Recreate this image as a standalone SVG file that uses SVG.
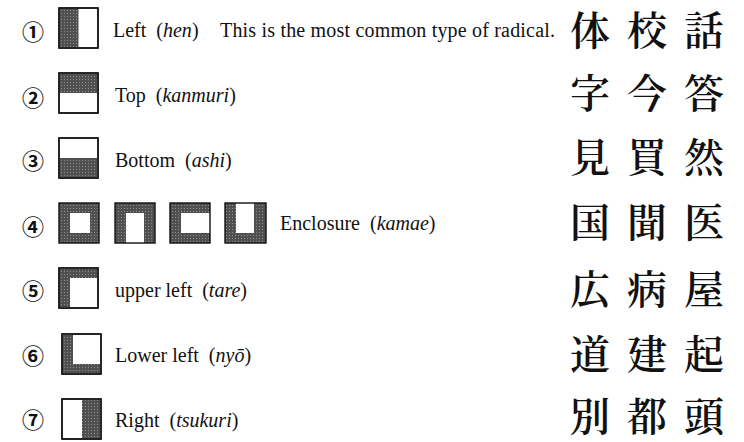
<svg xmlns="http://www.w3.org/2000/svg" width="744" height="442" viewBox="0 0 744 442">
<defs>
<pattern id="dots" width="3" height="3" patternUnits="userSpaceOnUse">
<rect width="3" height="3" fill="#505050"/>
<rect x="1" y="1" width="1" height="1" fill="#8e8e8e"/>
</pattern>
<style>
.num{font-family:"Noto Sans CJK JP","DejaVu Sans",sans-serif;font-size:22px;font-weight:700;text-anchor:middle;fill:#111}
.lbl{font-family:"Liberation Serif","Times New Roman",serif;font-size:20px;fill:#111}
.it{font-style:italic}
.kj{font-family:"Noto Serif CJK JP","Noto Sans CJK JP",serif;font-size:40px;text-anchor:middle;fill:#111;font-weight:600}
.box{fill:#fff;stroke:#111;stroke-width:1.4}
.frame{fill:none;stroke:#111;stroke-width:1.4}
.sh{fill:url(#dots)}
.wh{fill:#fff}
</style>
</defs>
<rect width="744" height="442" fill="#fff"/>

<g id="row1">
<text class="num" x="33" y="40">①</text>
<rect class="box" x="59" y="8" width="39" height="40"/>
<rect class="sh" x="59" y="8" width="19.5" height="40"/>
<rect class="frame" x="59" y="8" width="39" height="40"/>
<text class="lbl" x="113" y="37" xml:space="preserve">Left  (<tspan class="it">hen</tspan>)</text>
<text class="lbl" x="220" y="37" textLength="335" lengthAdjust="spacing">This is the most common type of radical.</text>
<text class="kj" x="590" y="45">体</text>
<text class="kj" x="647" y="45">校</text>
<text class="kj" x="704" y="45">話</text>
</g>

<g id="row2">
<text class="num" x="33" y="106">②</text>
<rect class="box" x="59" y="73" width="39" height="40"/>
<rect class="sh" x="59" y="73" width="39" height="20"/>
<rect class="frame" x="59" y="73" width="39" height="40"/>
<text class="lbl" x="115" y="101.5" xml:space="preserve">Top  (<tspan class="it">kanmuri</tspan>)</text>
<text class="kj" x="590" y="108">字</text>
<text class="kj" x="647" y="108">今</text>
<text class="kj" x="704" y="108">答</text>
</g>

<g id="row3">
<text class="num" x="33" y="168.5">③</text>
<rect class="box" x="59" y="138" width="39" height="40"/>
<rect class="sh" x="59" y="158" width="39" height="20"/>
<rect class="frame" x="59" y="138" width="39" height="40"/>
<text class="lbl" x="115" y="166.5" xml:space="preserve">Bottom  (<tspan class="it">ashi</tspan>)</text>
<text class="kj" x="590" y="172">見</text>
<text class="kj" x="647" y="172">買</text>
<text class="kj" x="704" y="172">然</text>
</g>

<g id="row4">
<text class="num" x="33" y="234.5">④</text>
<rect class="sh" x="59" y="203" width="40" height="40"/>
<rect class="wh" x="70" y="213" width="20" height="20"/>
<rect class="frame" x="59" y="203" width="40" height="40"/>
<rect class="sh" x="115" y="203" width="40" height="40"/>
<rect class="wh" x="126" y="213" width="18" height="30"/>
<rect class="frame" x="115" y="203" width="40" height="40"/>
<rect class="sh" x="170" y="203" width="40" height="40"/>
<rect class="wh" x="181" y="213" width="29" height="20"/>
<rect class="frame" x="170" y="203" width="40" height="40"/>
<rect class="sh" x="225" y="203" width="41" height="40"/>
<rect class="wh" x="236" y="203" width="18" height="30"/>
<rect class="frame" x="225" y="203" width="41" height="40"/>
<text class="lbl" x="280" y="230" xml:space="preserve">Enclosure  (<tspan class="it">kamae</tspan>)</text>
<text class="kj" x="590" y="237">国</text>
<text class="kj" x="647" y="237">聞</text>
<text class="kj" x="704" y="237">医</text>
</g>

<g id="row5">
<text class="num" x="33" y="298.5">⑤</text>
<rect class="box" x="59" y="268" width="39" height="40"/>
<rect class="sh" x="59" y="268" width="39" height="10"/>
<rect class="sh" x="59" y="268" width="11" height="40"/>
<rect class="frame" x="59" y="268" width="39" height="40"/>
<text class="lbl" x="115" y="296.5" xml:space="preserve">upper left  (<tspan class="it">tare</tspan>)</text>
<text class="kj" x="590" y="304">広</text>
<text class="kj" x="647" y="304">病</text>
<text class="kj" x="704" y="304">屋</text>
</g>

<g id="row6">
<text class="num" x="33" y="364">⑥</text>
<rect class="box" x="62" y="334" width="39" height="40"/>
<rect class="sh" x="62" y="334" width="11" height="40"/>
<rect class="sh" x="62" y="364" width="39" height="10"/>
<rect class="frame" x="62" y="334" width="39" height="40"/>
<text class="lbl" x="115" y="361.5" xml:space="preserve">Lower left  (<tspan class="it">nyō</tspan>)</text>
<text class="kj" x="590" y="369">道</text>
<text class="kj" x="647" y="369">建</text>
<text class="kj" x="704" y="369">起</text>
</g>

<g id="row7">
<text class="num" x="33" y="428">⑦</text>
<rect class="box" x="62" y="399" width="39" height="40"/>
<rect class="sh" x="82" y="399" width="19" height="40"/>
<rect class="frame" x="62" y="399" width="39" height="40"/>
<text class="lbl" x="115" y="426.5" xml:space="preserve">Right  (<tspan class="it">tsukuri</tspan>)</text>
<text class="kj" x="590" y="431">別</text>
<text class="kj" x="647" y="431">都</text>
<text class="kj" x="704" y="431">頭</text>
</g>
</svg>
